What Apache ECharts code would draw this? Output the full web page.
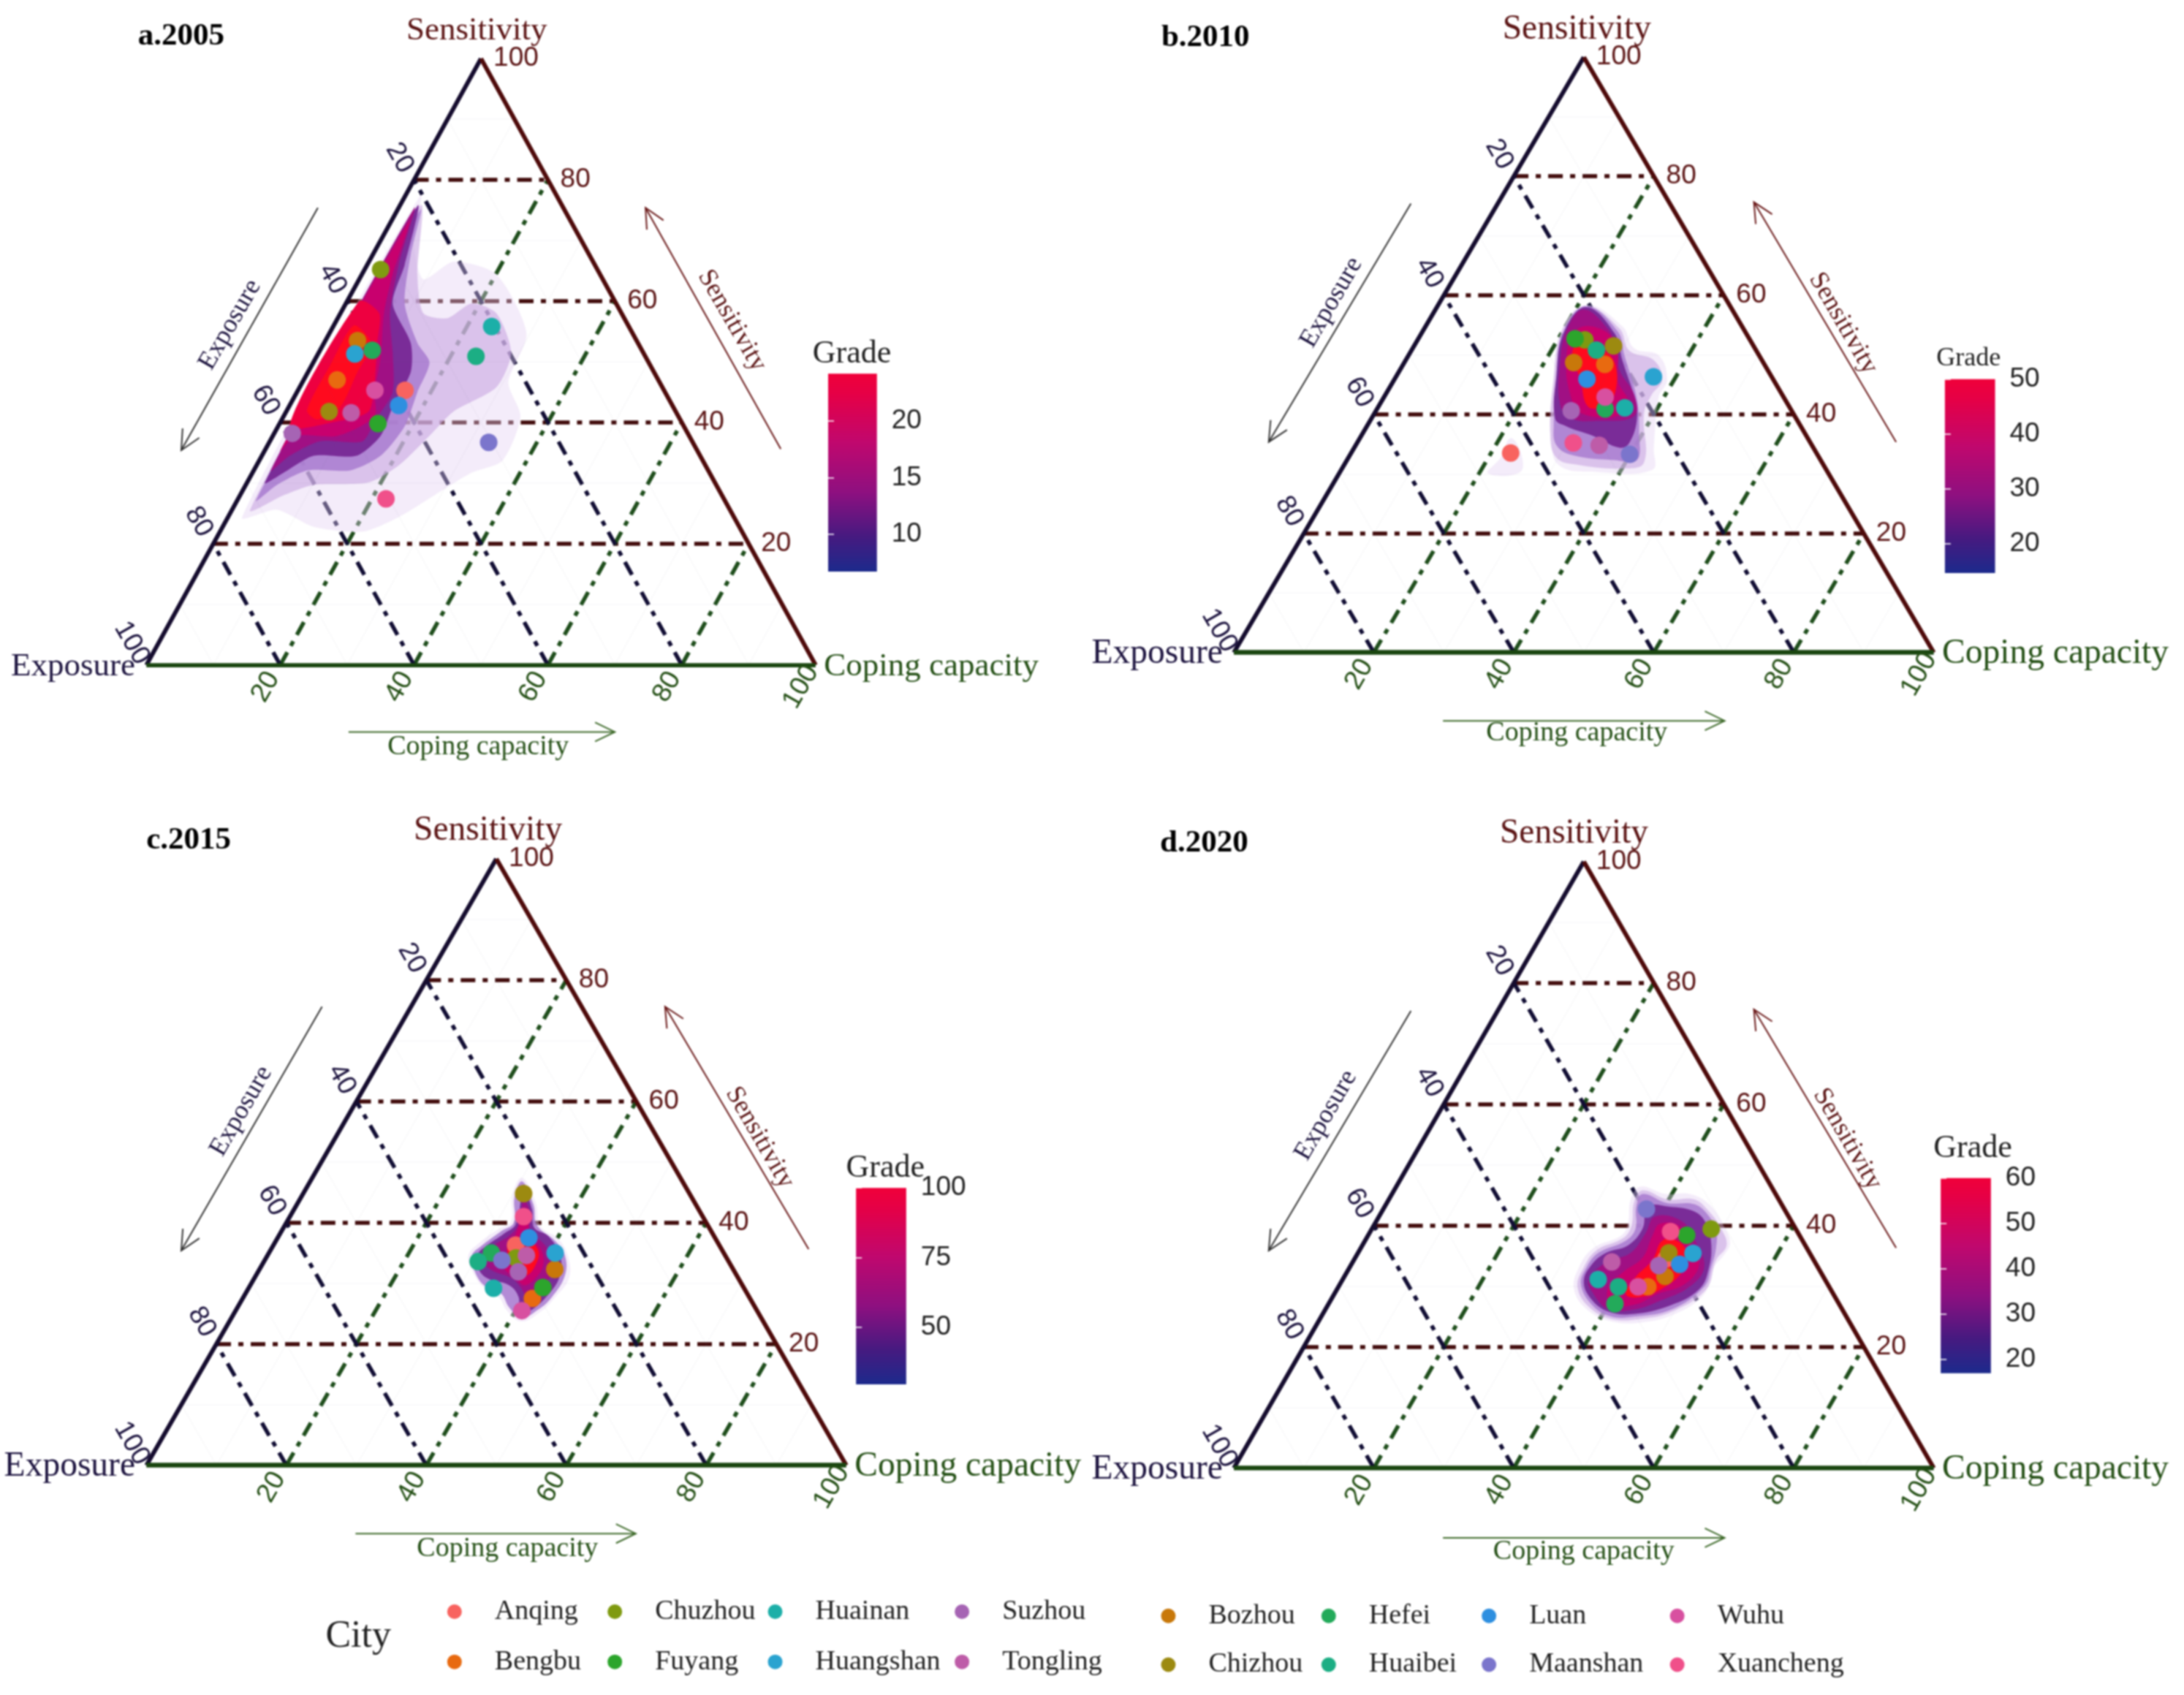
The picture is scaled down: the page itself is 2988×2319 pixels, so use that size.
<!DOCTYPE html>
<html><head><meta charset="utf-8">
<script src="https://cdn.jsdelivr.net/npm/echarts@6/dist/echarts.min.js"></script>
<style>html,body{margin:0;padding:0;background:#fff}#c{width:2988px;height:2319px;filter:blur(1px)}</style>
</head><body><div id="c"></div>
<script>
// ---------- data ----------
const cities = ['Anqing','Bengbu','Bozhou','Chizhou','Chuzhou','Fuyang','Hefei','Huaibei','Huainan','Huangshan','Luan','Maanshan','Suzhou','Tongling','Wuhu','Xuancheng'];
// Ternary values in % (exposure = 100 - sensitivity - coping)
const sens2005   = [45.3,47,53.5,41.8,65.2,39.8,51.9,50.9,55.8,51.3,42.8,36.7,38.2,41.6,45.3,27.4];
const coping2005 = [16,5,4.8,6.4,2.4,14.7,7.8,23.8,23.7,5.5,16.3,32.8,2.7,9.8,11.5,22.1];
const sens2010   = [33.5,48.4,48.7,51.5,52.5,52.7,40.9,50.8,41.1,46.3,45.9,33.3,40.6,34.8,42.9,35.2];
const coping2010 = [22.8,28.8,24.2,28.5,23.9,22.4,32.6,26.4,35.3,36.8,27.5,39.9,27.9,34.8,31.6,30.9];
const sens2015   = [36.3,27.5,32.3,44.8,34.2,29.3,35,33.6,29.2,35,37.5,33.8,31.9,34.6,25.5,41];
const coping2015 = [34.6,41.4,42.2,31.5,35.7,42,31.8,30.6,35,40.9,35.9,33.9,37.2,37,40.9,33.4];
const sens2020   = [34.5,29.9,31.6,35.5,39.4,38.4,27.1,29.9,31.1,35.4,33.6,42.7,33.4,34,29.9,39];
const coping2020 = [44.5,44.2,45.8,44.4,48.5,45.5,40.9,40,36.5,47.9,46.9,37.6,44,37,42.8,42.9];

const axisTicks = [20,40,60,80,100];
const gridLevels = [20,40,60,80];
const minorLevels = [10,30,50,70,90];

const gradeTicks2005 = [10,15,20],      gradeRange2005 = [6.7,24.2];
const gradeTicks2010 = [20,30,40,50],   gradeRange2010 = [14.7,50];
const gradeTicks2015 = [50,75,100],     gradeRange2015 = [29.5,100];
const gradeTicks2020 = [20,30,40,50,60],gradeRange2020 = [16.9,60];

// Density bands, light to strong, as [position along the base %, sensitivity %]
const band2005 = [
 [[14.3,24.4],[40.9,77.4],[40,69.3],[41.4,63.6],[45.9,66.5],[52.3,64.4],[56.8,54.7],[54.1,46.6],[55.9,41],[53.2,33.7],[48.6,31.7],[43.2,28.1],[37.7,24.4],[32.3,22],[25,22.8],[19.5,25.6]],
 [[40.9,75.7],[40.5,64.4],[41.4,58],[45,57.2],[48.6,59.6],[52.3,58],[54.5,51.5],[52.3,45.8],[45.9,41.8],[42.3,37.8],[37.7,32.9],[33.2,30.1],[25,29.7],[20.5,28],[15.5,25.6]],
 [[40.9,75],[39.5,67.7],[38.6,59.6],[40.5,53.1],[42.3,49.9],[40.5,45],[38.6,39.4],[35,34.5],[30.5,32.1],[24.1,32.1],[19.5,29.7],[16.4,27.2]],
 [[40.5,75.7],[38.6,66],[36.8,59.6],[39.5,53.1],[39.5,48.3],[36.8,42.6],[35,37.8],[31.4,34.5],[25,34.5],[20.5,31.7],[17.7,30.1]],
 [[40,75.3],[37.7,66],[36.4,58],[36.8,51.5],[36.8,45],[34.1,40.2],[32.3,36.9],[25.9,36.9],[21.4,34.5],[18.6,32.1]],
 [[39.3,73.3],[36.8,64.4],[35.5,58],[35,50.7],[34.1,45],[34.1,41],[28.6,37.8],[22.3,37.8],[20,35.3]],
 [[31.8,60],[34.8,58],[34.5,53.1],[34.1,46.6],[33.2,41.8],[28.6,40.2],[21.4,39.4]],
 [[31,56],[33.6,53],[31.4,48],[29,42.6],[25.5,40.5],[24,42],[27.5,49.5]]
];
const bandAnqing2010 = [[39.5,36],[41,33.6],[40.9,30.3],[36.3,30.1],[38.1,32.7]];
const band2010 = [
 [[50.3,58.4],[55.5,54.8],[57.2,51.1],[60.7,49.9],[61.9,45.8],[60.7,42.9],[60,34.4],[59.8,30.7],[52,30.3],[46.4,31.5],[45.4,36.8],[45.7,46.6],[46.8,54]],
 [[50.3,58.2],[55.1,54.4],[56.5,50.7],[60,49.1],[61.2,45.8],[59.7,43.3],[58.6,40.1],[58.6,31.9],[55.5,30.9],[49.2,31.5],[46.1,32.7],[45.2,36.8],[45.7,45.8],[47,54.4]],
 [[50.3,58.2],[54.8,54],[55.8,49.9],[57.6,42.5],[57.9,36.8],[57.6,32.3],[54.4,32.3],[48.5,33.1],[46.1,34.8],[45.7,38.4],[46.1,46.6],[47,53.6]],
 [[50.3,58],[54.4,53.6],[55.5,49.1],[57.2,42.9],[57.6,39.3],[56.5,35.2],[55.1,34.4],[51.3,36.4],[47.5,38],[45.9,39.3],[46.1,46.6],[47.1,53.6]],
 [[49.9,57.6],[53.4,54.4],[54.8,50.7],[55.1,47.4],[57.2,43.3],[57.2,39.7],[52,38.9],[48.2,39.3],[46.6,41.7],[46.6,48.7],[47.5,54]],
 [[49.2,54.4],[53,54],[54.8,50.7],[54.8,45.8],[56.5,41.7],[54.8,39.7],[50.3,39.9],[48.5,41.7],[47.5,49.5]],
 [[48.5,51.1],[52,51.1],[54.4,48.7],[54.4,43.3],[52.7,41.3],[50.6,41.3],[49.6,45.4]]
];
const band2015 = [
 [[53.7,47.4],[55.6,43.4],[56.3,39.4],[58.8,37.4],[60.2,34.6],[60.4,30.9],[58.4,27.7],[56.3,25.3],[53.5,23.7],[51.4,25.7],[50.4,27.7],[48.2,29.3],[46.5,32.2],[46,34.6],[47.5,36.6],[50.4,39],[52.1,40.2],[52.3,44.6]],
 [[53.7,46.8],[55.3,43],[55.8,39.6],[58.4,37],[59.8,34.6],[59.8,31.3],[57.9,27.7],[56,25.7],[53.5,24.3],[51.8,26.1],[50.7,28.3],[48.2,29.7],[46.7,32.6],[46.5,34.6],[47.9,36.2],[50.7,38.6],[52.5,40],[52.6,44.2]],
 [[53.9,45.4],[55.1,42.2],[55.4,39.2],[57.4,37.8],[59.1,34.6],[59.1,31.3],[57.4,28.1],[54.6,25.3],[53.2,25.3],[53.2,27.7],[51.8,29.7],[48.6,30.9],[47.2,33],[47.2,34.6],[48.6,36.2],[51.1,38.2],[52.8,39.8]],
 [[53.9,43.8],[54.9,41.4],[54.9,38.6],[56.7,36.6],[58.1,34.2],[57.7,31.3],[56.3,28.5],[54.6,27.3],[53.5,29.3],[52.1,30.9],[49.3,32.2],[48.2,33.8],[49.6,36.2],[51.8,37.8],[53.2,39.8]],
 [[53.9,41.8],[54.6,39.8],[54.6,37.8],[56.3,35.8],[56.7,33],[55.3,30.5],[53.9,29.7],[52.8,30.9],[51.1,32.6],[51.8,35.8],[52.8,38.2]],
 [[51.8,37],[54.2,37.4],[56,35.4],[55.6,33],[54.2,31.3],[52.8,32.6],[51.8,34.2]]
];
const band2020 = [
 [[58.1,46.4],[61.6,45.2],[65.1,45.2],[67.9,43.5],[70,39.9],[70.9,37.1],[70,35.1],[68.6,33.1],[67.2,28.7],[63,25.4],[58.1,24],[53.9,24.2],[50.4,26.2],[48.6,29.5],[49.3,33.1],[51.4,36.3],[55.3,38.3],[56.3,40.3],[56.7,44.3]],
 [[58.4,45.8],[61.9,44.3],[65.8,44.3],[67.9,42.3],[69.6,39.5],[70.4,36.7],[68.9,34.3],[67.5,29.5],[62.6,25.8],[58.1,24.6],[53.9,24.6],[50.7,26.6],[49.1,29.9],[50,33.1],[51.8,35.9],[55.6,37.9],[56.8,39.9],[57.2,43.9]],
 [[58.4,45.2],[61.9,43.7],[65.8,43.5],[67.9,41.5],[68.9,39.1],[68.9,36.3],[68.2,33.1],[67.2,29.9],[62.6,26.2],[57.4,25],[53.9,25],[51.1,27],[49.6,30.3],[50.4,33.1],[52.1,35.5],[56,37.5],[57.4,39.5],[57.5,43.1]],
 [[59.1,43.1],[62.3,43.1],[65.8,42.3],[67.5,40.3],[68.2,37.1],[67.9,33.1],[66.5,29.5],[62.3,26.8],[57,25.4],[53.5,25.8],[51.1,27.8],[50,30.7],[51.1,33.5],[53.2,35.5],[56.3,36.7],[58.4,39.5]],
 [[60.2,41.5],[64,40.7],[66.1,37.1],[67.2,33.1],[65.1,29.9],[60.9,27.6],[57.4,26.2],[53.5,26.2],[51.4,28.7],[50.7,31.1],[53.2,33.9],[56.7,35.5],[58.8,38.7]],
 [[60.9,40.3],[63.7,39.9],[65.4,36.7],[66.5,33.5],[64.4,30.3],[60.5,28.7],[57.4,27],[53.9,27],[53.5,29.9],[55.6,32.3],[58.4,34.7],[59.8,38.3]],
 [[61.2,37.5],[63.3,37.5],[64.7,35.5],[64,32.3],[61.6,29.9],[58.1,28.2],[56,28.7],[57.4,31.5],[59.8,34.3]]
];

// ---------- styling and layout ----------
const cityColors = ['#F8635F','#E86A10','#C8780A','#9C8A10','#7F9A10','#2CA52C','#23AA5A','#1CAE84','#1CAFA8','#2AA3D0','#2E8FE0','#7B75CC','#A664B4','#BE5CA8','#D850A0','#F0508A'];
const bandPalette = ['rgba(228,208,242,.4)','rgba(205,172,228,.65)','rgba(170,125,208,.88)','#7A2C98','#A01084','#C8006E','#EE0040','#FF0A1E'];
const K = 2988/1566.5;
const SERIF = '"Liberation Serif"', SANS = '"Liberation Sans"';
const NAVY='#1E1540', RED='#5B1414', GREEN='#255016';
const panels = [
 {title:'a.2005',tx:99,ty:26,apex:[345,42],left:[105,477],right:[585,477],fs:45,sdx:-3,sens:sens2005,coping:coping2005,bands:band2005,pal:[0,1,2,3,4,5,6,7],extra:[],smooth:.25,
  cb:[594,629,268,410],ticks:gradeTicks2005,range:gradeRange2005,grade:[611,254,44],
  expA:[[228,149],[130,323]],expT:[165,233],senA:[[560,322],[463,149]],senT:[525,230],copA:[[250,525],[441,525]],copT:[343,536]},
 {title:'b.2010',tx:833,ty:27,apex:[1136,41],left:[885,468],right:[1387,468],fs:47.5,sdx:-5,sens:sens2010,coping:coping2010,bands:band2010,pal:[0,1,2,3,4,5,7],extra:[bandAnqing2010],smooth:.4,
  cb:[1395,1431,272,411],ticks:gradeTicks2010,range:gradeRange2010,grade:[1412,257,36],
  expA:[[1012,146],[910,317]],expT:[955,217],senA:[[1360,317],[1258,145]],senT:[1322,232],copA:[[1035,517],[1237,517]],copT:[1131,526]},
 {title:'c.2015',tx:105,ty:603,apex:[356,616],left:[105,1051],right:[607,1051],fs:47.5,sdx:-6,sens:sens2015,coping:coping2015,bands:band2015,pal:[0,2,3,4,5,7],extra:[],smooth:.4,
  cb:[614,650,852,993],ticks:gradeTicks2015,range:gradeRange2015,grade:[635,838,44],
  expA:[[231,722],[130,897]],expT:[173,797],senA:[[580,896],[477,722]],senT:[545,816],copA:[[255,1100],[456,1100]],copT:[364,1111]},
 {title:'d.2020',tx:832,ty:605,apex:[1136,618],left:[885,1053],right:[1387,1053],fs:47.5,sdx:-7,sens:sens2020,coping:coping2020,bands:band2020,pal:[0,1,2,3,4,5,7],extra:[],smooth:.4,
  cb:[1392,1428,845,985],ticks:gradeTicks2020,range:gradeRange2020,grade:[1415,824,44],
  expA:[[1012,725],[910,897]],expT:[951,800],senA:[[1360,895],[1258,724]],senT:[1325,817],copA:[[1035,1103],[1237,1103]],copT:[1136,1113]}
];
const legendBlocks = [
 {cities:['Anqing','Bengbu','Chuzhou','Fuyang','Huainan','Huangshan','Suzhou','Tongling'],cols:[326,441,556,690],rows:[1156,1192]},
 {cities:['Bozhou','Chizhou','Hefei','Huaibei','Luan','Maanshan','Wuhu','Xuancheng'],cols:[838,953,1068,1203],rows:[1159,1194]}
];

// ternary (coping, sensitivity) -> chart plane
const plane = (c,s)=>[c+s/2,s];

const grid=[],xAxis=[],yAxis=[],series=[],graphic=[];
const text=(t,x,y,size,color,o={})=>graphic.push({type:'text',x:x*K,y:y*K,rotation:o.rot||0,z:50,silent:true,style:{text:t,fill:color,font:(o.bold?'bold ':'')+size+'px '+(o.font||SERIF),align:o.align||'center',verticalAlign:'middle'}});
const arrow=(a,color)=>{
  const [p,q]=[a[0].map(v=>v*K),a[1].map(v=>v*K)];
  graphic.push({type:'line',z:50,silent:true,shape:{x1:p[0],y1:p[1],x2:q[0],y2:q[1]},style:{stroke:color,lineWidth:2}});
  const ang=Math.atan2(q[1]-p[1],q[0]-p[0]),L=30;
  const h=d=>[q[0]-L*Math.cos(ang+d),q[1]-L*Math.sin(ang+d)];
  graphic.push({type:'polyline',z:50,silent:true,shape:{points:[h(.45),q,h(-.45)]},style:{stroke:color,lineWidth:2,fill:null}});
};
const lineSeries=(i,segs,color,width,dash,z)=>series.push({type:'lines',coordinateSystem:'cartesian2d',xAxisIndex:i,yAxisIndex:i,silent:true,z,polyline:false,
   data:segs.map(s=>({coords:s})),lineStyle:{color,width,type:dash,opacity:1,cap:'butt'}});
const labelSeries=(i,rows,color,rot,dx,dy,align)=>series.push({type:'custom',coordinateSystem:'cartesian2d',xAxisIndex:i,yAxisIndex:i,silent:true,z:30,data:rows,
   encode:{x:0,y:1},
   renderItem:(p,api)=>{const pt=api.coord([api.value(0),api.value(1)]);
     return {type:'text',x:pt[0]+dx,y:pt[1]+dy,rotation:rot,style:{text:String(api.value(2)),fill:color,font:'37px '+SANS,align,verticalAlign:'middle'}};}});
const bandSeries=(i,pts,color,smooth,z)=>series.push({type:'custom',coordinateSystem:'cartesian2d',xAxisIndex:i,yAxisIndex:i,silent:true,z,data:pts,encode:{x:0,y:1},
   renderItem:(p,api)=>{ if(p.dataIndex!==0) return null;
     return {type:'polygon',shape:{points:pts.map(v=>api.coord(v)),smooth},style:{fill:color}};}});

panels.forEach((P,i)=>{
  grid[i]={left:P.left[0]*K,top:P.apex[1]*K,width:(P.right[0]-P.left[0])*K,height:(P.left[1]-P.apex[1])*K};
  xAxis[i]={type:'value',gridIndex:i,min:0,max:100,show:false};
  yAxis[i]={type:'value',gridIndex:i,min:0,max:100,show:false};
  const cb=P.cb, g=i+4;
  grid[g]={left:cb[0]*K,top:cb[2]*K,width:(cb[1]-cb[0])*K,height:(cb[3]-cb[2])*K};
  xAxis[g]={type:'value',gridIndex:g,min:0,max:1,show:false};
  yAxis[g]={type:'value',gridIndex:g,position:'right',min:P.range[0],max:P.range[1],z:10,axisLine:{show:false},splitLine:{show:false},
    axisTick:{show:true,inside:true,length:8,lineStyle:{color:'rgba(255,255,255,.75)',width:2},customValues:P.ticks},
    axisLabel:{margin:20,color:'#222',fontSize:37,fontFamily:SANS,customValues:P.ticks}};
  yAxis[g+4]={type:'value',gridIndex:g,position:'left',min:P.range[0],max:P.range[1],z:10,axisLine:{show:false},splitLine:{show:false},
    axisTick:{show:true,inside:true,length:8,lineStyle:{color:'rgba(255,255,255,.75)',width:2},customValues:P.ticks},axisLabel:{show:false}};
});
panels.forEach((P,i)=>{
  const g=i+4;
  series.push({type:'custom',coordinateSystem:'cartesian2d',xAxisIndex:g,yAxisIndex:g,silent:true,z:2,data:[[0,P.range[0],1,P.range[1]]],encode:{x:[0,2],y:[1,3]},
    renderItem:(p,api)=>{const a=api.coord([0,api.value(3)]),b=api.coord([1,api.value(1)]);
      return {type:'rect',shape:{x:a[0],y:a[1],width:b[0]-a[0],height:b[1]-a[1]},
        style:{fill:new echarts.graphic.LinearGradient(0,0,0,1,[{offset:0,color:'#F0003A'},{offset:.1,color:'#E60046'},{offset:.35,color:'#C0086E'},{offset:.6,color:'#8E1080'},{offset:.82,color:'#471A80'},{offset:1,color:'#1C2A8C'}])}};}});
  const dash=[20,10,7,10];
  lineSeries(i,gridLevels.map(v=>[plane(0,v),plane(100-v,v)]),'#420C0C',5.5,dash,4);
  lineSeries(i,gridLevels.map(v=>[plane(v,0),plane(v,100-v)]),'#1F4E1C',5.5,dash,4);
  lineSeries(i,gridLevels.map(v=>[plane(100-v,0),plane(0,100-v)]),'#120E34',5.5,dash,4);
  P.extra.forEach(b=>bandSeries(i,b,bandPalette[0],P.smooth,5));
  P.bands.forEach((b,k)=>bandSeries(i,b,bandPalette[P.pal[k]],P.smooth,5+k));
  const mins=[];
  minorLevels.forEach(v=>{
    mins.push([plane(0,v),plane(100-v,v)]);
    mins.push([plane(v,0),plane(v,100-v)]);
    mins.push([plane(100-v,0),plane(0,100-v)]);
  });
  lineSeries(i,mins,'rgba(120,100,140,.035)',2,'solid',14);
  lineSeries(i,[[plane(0,0),plane(0,100)]],'#150C2E',6,'solid',15);
  lineSeries(i,[[plane(0,100),plane(100,0)]],'#4E0A0A',6,'solid',15);
  lineSeries(i,[[plane(0,0),plane(100,0)]],'#1A4610',6.5,'solid',16);
  cities.forEach((name,k)=>{
    series.push({type:'scatter',name,coordinateSystem:'cartesian2d',xAxisIndex:i,yAxisIndex:i,silent:true,z:20,symbol:'circle',symbolSize:24,
      itemStyle:{color:cityColors[k],opacity:1},data:[plane(P.coping[k],P.sens[k])]});
  });
  labelSeries(i,axisTicks.map(v=>[...plane(0,100-v),v]),NAVY,-Math.PI/3,-20,-30,'center');
  labelSeries(i,axisTicks.map(v=>[...plane(100-v,v),v]),RED,0,17,0,'left');
  labelSeries(i,axisTicks.map(v=>[...plane(v,0),v]),GREEN,Math.PI/3,-20,30,'center');
  const [ax,ay]=P.apex,[lx,ly]=P.left,[rx,ry]=P.right;
  text('Sensitivity',ax+P.sdx,ay-20,P.fs,RED);
  text('Exposure',lx-8,ly+1,P.fs,NAVY,{align:'right'});
  text('Coping capacity',rx+6,ry+1,P.fs,GREEN,{align:'left'});
  text(P.title,P.tx,P.ty,43,'#000',{align:'left',bold:true});
  text('Grade',P.grade[0],P.grade[1],P.grade[2],'#222');
  arrow(P.expA,'#333'); arrow(P.senA,'#6B1A1A'); arrow(P.copA,'#3E6A2A');
  text('Exposure',P.expT[0],P.expT[1],36,NAVY,{rot:Math.PI/3});
  text('Sensitivity',P.senT[0],P.senT[1],36,RED,{rot:-Math.PI/3});
  text('Coping capacity',P.copT[0],P.copT[1],38,GREEN);
});
text('City',257,1174,52,'#222');

const legend=[];
legendBlocks.forEach(B=>B.cities.forEach((name,j)=>{
  const col=Math.floor(j/2), row=j%2;
  legend.push({selectedMode:false,padding:0,orient:'horizontal',itemWidth:100,itemHeight:20,
    left:B.cols[col]*K-10,top:B.rows[row]*K-19,
    data:[{name,icon:'circle'}],textStyle:{fontFamily:SERIF,fontSize:38,color:'#222'}});
}));

const chart=echarts.init(document.getElementById('c'));
chart.setOption({animation:false,backgroundColor:'#fff',grid,xAxis,yAxis,series,graphic,legend});
</script></body></html>
